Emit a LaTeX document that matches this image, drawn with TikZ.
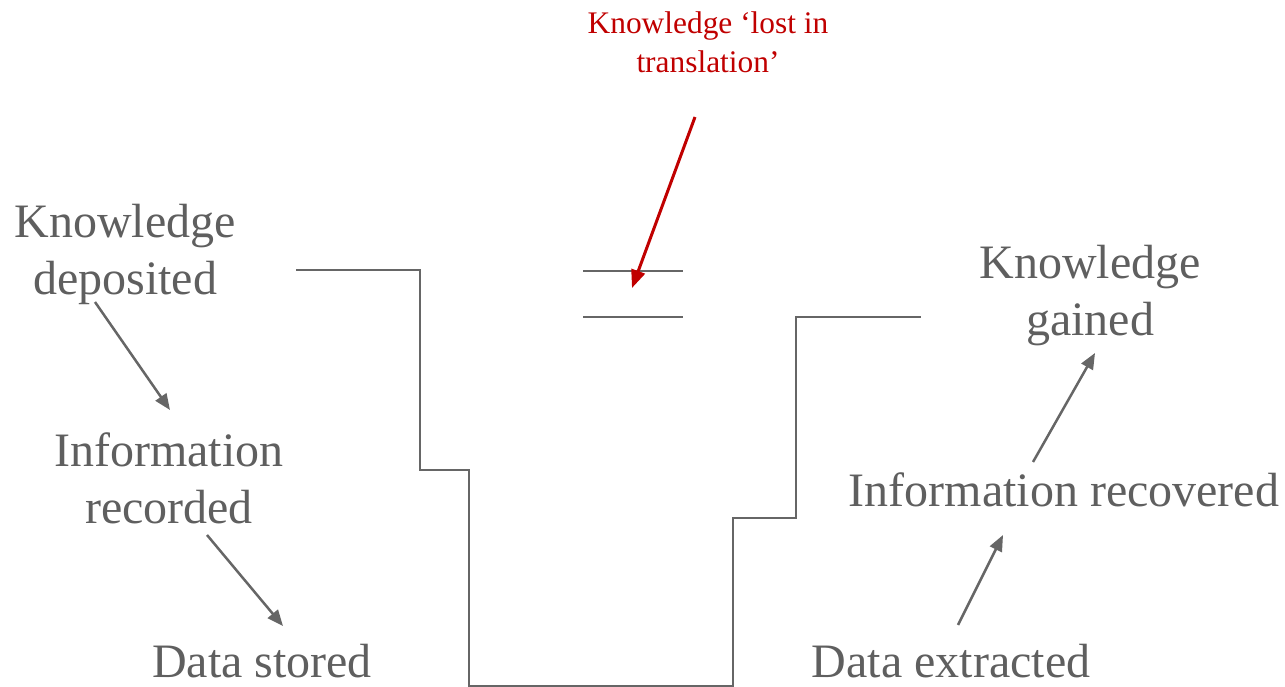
\documentclass[tikz,border=0pt]{standalone}
\usepackage{fontspec}
\setmainfont{Liberation Serif}
\usetikzlibrary{arrows.meta}
\definecolor{txtgray}{HTML}{5F5F5F}
\definecolor{lngray}{HTML}{666666}
\definecolor{darkred}{HTML}{C00000}
\begin{document}
\begin{tikzpicture}[x=1pt,y=-1pt,
  lbl/.style={inner sep=0pt,text=txtgray,align=center,font=\fontsize{48}{57}\selectfont},
  redlbl/.style={inner sep=0pt,text=darkred,align=center,font=\fontsize{31.4}{39}\selectfont},
  flow/.style={draw=lngray,line width=2.5pt,-{Triangle[length=16pt,width=13pt]}},
  redflow/.style={draw=darkred,line width=3pt,-{Triangle[length=18pt,width=14pt]}},
  stepline/.style={draw=lngray,line width=2pt},
  gapline/.style={draw=lngray,line width=2pt}]
\useasboundingbox (0,0) rectangle (1285,687);
% labels
\node[lbl,anchor=north] (kd) at (125,204) {Knowledge\\deposited};
\node[lbl,anchor=north] (ir) at (169,432) {Information\\recorded};
\node[lbl,anchor=base] (ds) at (262,677) {Data stored};
\node[lbl,anchor=north] (kg) at (1090,245) {Knowledge\\gained};
\node[lbl,anchor=base] (irc) at (1064,506) {Information recovered};
\node[lbl,anchor=base] (de) at (951,677) {Data extracted};
\node[redlbl,anchor=north] (lost) at (708,12) {Knowledge ‘lost in\\translation’};
% arrow end points
\coordinate (a1s) at (95,302);   \coordinate (a1e) at (170,410);
\coordinate (a2s) at (207,535);  \coordinate (a2e) at (283,626);
\coordinate (a3s) at (958,625);  \coordinate (a3e) at (1003,535);
\coordinate (a4s) at (1033,462); \coordinate (a4e) at (1095,353);
\coordinate (r1s) at (695,117);  \coordinate (r1e) at (632,288);
% step path points
\coordinate (p1) at (296,270);
\coordinate (p2) at (420,270);
\coordinate (p3) at (420,470);
\coordinate (p4) at (469,470);
\coordinate (p5) at (469,686);
\coordinate (p6) at (733,686);
\coordinate (p7) at (733,518);
\coordinate (p8) at (796,518);
\coordinate (p9) at (796,317);
\coordinate (p10) at (921,317);
\coordinate (g1a) at (583,271); \coordinate (g1b) at (683,271);
\coordinate (g2a) at (583,317); \coordinate (g2b) at (683,317);
% drawing
\draw[stepline] (p1) -- (p2) -- (p3) -- (p4) -- (p5) -- (p6) -- (p7) -- (p8) -- (p9) -- (p10);
\draw[gapline] (g1a) -- (g1b);
\draw[gapline] (g2a) -- (g2b);
\draw[flow] (a1s) -- (a1e);
\draw[flow] (a2s) -- (a2e);
\draw[flow] (a3s) -- (a3e);
\draw[flow] (a4s) -- (a4e);
\draw[redflow] (r1s) -- (r1e);
\end{tikzpicture}
\end{document}
